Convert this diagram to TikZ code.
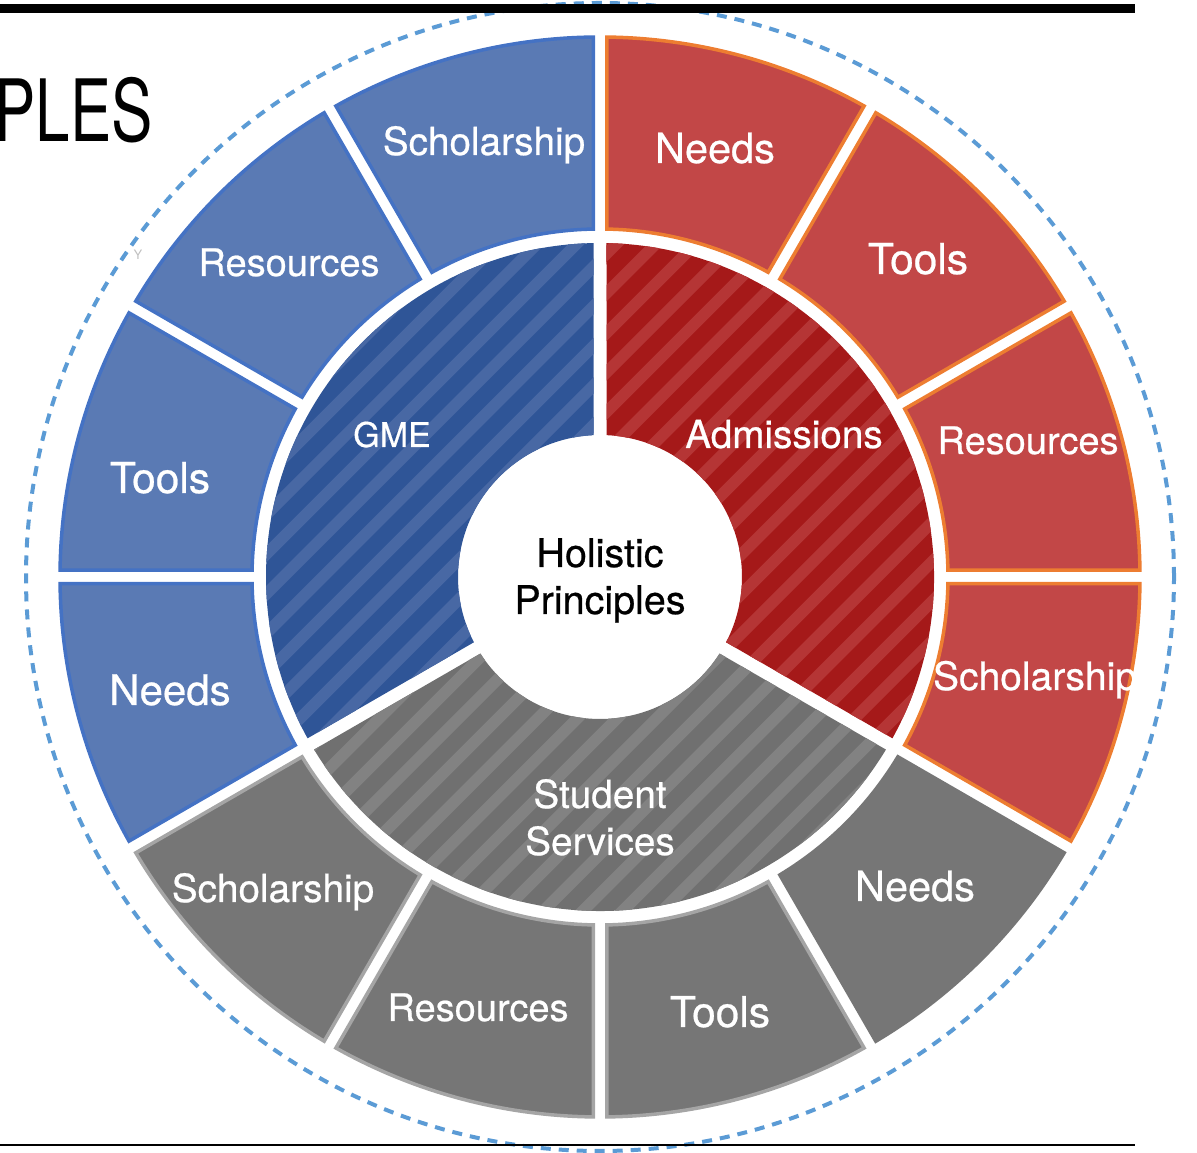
\documentclass[tikz,border=0pt]{standalone}
\usepackage{fontspec}
\setmainfont{TeX Gyre Heros}
\newfontfamily\lblfont[FakeBold=0.6]{TeX Gyre Heros}
\usepackage{graphicx}
\definecolor{bluefill}{HTML}{5A7AB4}
\definecolor{blueedge}{HTML}{4472C4}
\definecolor{redfill}{HTML}{C24747}
\definecolor{rededge}{HTML}{ED7D31}
\definecolor{grayfill}{HTML}{767676}
\definecolor{grayedge}{HTML}{A5A5A5}
\definecolor{bluedark}{HTML}{2F5597}
\definecolor{bluelight}{HTML}{4868A4}
\definecolor{reddark}{HTML}{A51919}
\definecolor{redlight}{HTML}{B53535}
\definecolor{graydark}{HTML}{707070}
\definecolor{graylight}{HTML}{828282}
\definecolor{dashblue}{HTML}{5B9BD5}
\newcommand\ringseg[6]{%
  \pgfmathsetmacro\dA{asin(#5/#3)}%
  \pgfmathsetmacro\dB{asin(#5/#4)}%
  \path[#6] ({#1+\dA}:#3) -- ({#1+\dB}:#4)
    arc[start angle={#1+\dB}, end angle={#2-\dB}, radius=#4]
    -- ({#2-\dA}:#3)
    arc[start angle={#2-\dA}, end angle={#1+\dA}, radius=#3] -- cycle;}
\newcommand\hatchseg[4]{%
  \begin{scope}
    \ringseg{#1}{#2}{142}{334}{6.5}{clip}
    \fill[#3] (-400,-400) rectangle (400,400);
    \foreach \c in {-792,-752.4,...,800}
      \draw[#4, line width=11.5] ({\c-400},-400) -- ({\c+400},400);
  \end{scope}}
\tikzset{
  lbl/.style={text=white, anchor=base, inner sep=0pt},
  blueseg/.style={fill=bluefill, draw=blueedge, line width=3.5},
  redseg/.style={fill=redfill, draw=rededge, line width=3.5},
  grayseg/.style={fill=grayfill, draw=grayedge, line width=3.5},
}
\newcommand\fs[1]{\lblfont\fontsize{#1}{#1}\selectfont}
\begin{document}
\begin{tikzpicture}[x=1pt,y=1pt]
\useasboundingbox (0,0) rectangle (1197,1153);
% dashed outer circle
\draw[dashblue, line width=4, dash pattern=on 10 off 8] (600,576) circle[radius=574];
% rules
\fill[black] (0,1140) rectangle (1135,1149);
\fill[black] (0,7) rectangle (1135,9);
% title fragment
\node[anchor=base east, inner sep=0pt] (title) at (153,1011)
  {\fontsize{86}{86}\selectfont\scalebox{0.72}[1]{PLES}};
\node[text=black!25, inner sep=0pt] (ymark) at (138,898) {\fontsize{13}{13}\selectfont Y};
\begin{scope}[shift={(600,576)}]
  % middle ring (hatched)
  \hatchseg{90}{210}{bluedark}{bluelight}
  \hatchseg{-30}{90}{reddark}{redlight}
  \hatchseg{210}{330}{graydark}{graylight}
  % outer segments
  \ringseg{90}{120}{348}{540}{6.75}{blueseg}
  \ringseg{120}{150}{348}{540}{6.75}{blueseg}
  \ringseg{150}{180}{348}{540}{6.75}{blueseg}
  \ringseg{180}{210}{348}{540}{6.75}{blueseg}
  \ringseg{60}{90}{348}{540}{6.75}{redseg}
  \ringseg{30}{60}{348}{540}{6.75}{redseg}
  \ringseg{0}{30}{348}{540}{6.75}{redseg}
  \ringseg{-30}{0}{348}{540}{6.75}{redseg}
  \ringseg{-60}{-30}{348}{540}{6.75}{grayseg, draw=grayfill}
  \ringseg{-90}{-60}{348}{540}{6.75}{grayseg}
  \ringseg{-120}{-90}{348}{540}{6.75}{grayseg}
  \ringseg{-150}{-120}{348}{540}{6.75}{grayseg}
\end{scope}
% outer labels
\node[lbl, font=\fs{38.7}] (bS) at (484,998) {Scholarship};
\node[lbl, font=\fs{38}] (bR) at (289,877) {Resources};
\node[lbl, font=\fs{42.5}] (bT) at (160,660) {Tools};
\node[lbl, font=\fs{42}] (bN) at (170,448) {Needs};
\node[lbl, font=\fs{41.5}] (rN) at (715,990) {Needs};
\node[lbl, font=\fs{42.5}] (rT) at (918,879) {Tools};
\node[lbl, font=\fs{38}] (rR) at (1028,699) {Resources};
\node[lbl, font=\fs{39}] (rS) at (1035,463) {Scholarship};
\node[lbl, font=\fs{41.5}] (gN) at (915,252) {Needs};
\node[lbl, font=\fs{42.5}] (gT) at (720,126) {Tools};
\node[lbl, font=\fs{38}] (gR) at (478,132) {Resources};
\node[lbl, font=\fs{38.7}] (gS) at (273,251) {Scholarship};
% middle labels
\node[lbl, font=\fs{34}] (gme) at (392,706) {GME};
\node[lbl, font=\fs{38.7}] (adm) at (784,705) {Admissions};
\node[lbl, font=\fs{38.7}] (stu) at (600,345) {Student};
\node[lbl, font=\fs{38.7}] (ser) at (600,298) {Services};
% centre
\node[lbl, text=black, font=\fs{39.5}] (hol) at (600,586) {Holistic};
\node[lbl, text=black, font=\fs{39.5}] (pri) at (600,539) {Principles};
\end{tikzpicture}
\end{document}
